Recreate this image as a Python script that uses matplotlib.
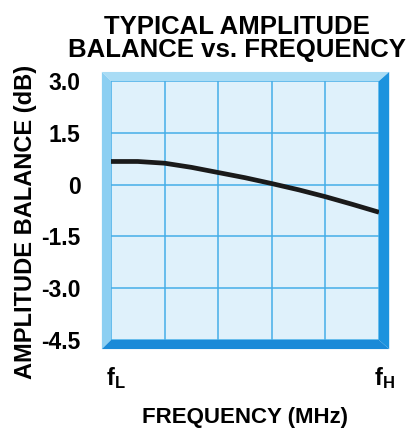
import matplotlib.pyplot as plt
from matplotlib.patches import Polygon
from matplotlib.transforms import ScaledTranslation

plt.rcParams['font.family'] = ['Liberation Sans', 'DejaVu Sans']
plt.rcParams['font.weight'] = 'bold'
plt.rcParams['axes.labelweight'] = 'bold'
plt.rcParams['mathtext.fontset'] = 'custom'
plt.rcParams['mathtext.rm'] = 'Liberation Sans:bold'
plt.rcParams['mathtext.bf'] = 'Liberation Sans:bold'

# frequency position across the band (0 = fL, 5 = fH) and balance in dB
freq_pos = [0, 0.5, 1, 1.5, 2, 2.5, 3, 3.5, 4, 4.5, 5]
balance_db = [0.67, 0.67, 0.62, 0.50, 0.35, 0.20, 0.03, -0.15, -0.35, -0.57, -0.80]

y_ticks = [3.0, 1.5, 0, -1.5, -3.0, -4.5]
y_labels = ['3.0', '1.5', '0', '-1.5', '-3.0', '-4.5']
x_ticks = [0, 5]
x_labels = [r'$\mathrm{f_L}$', r'$\mathrm{f_H}$']

fig = plt.figure(figsize=(4.12, 4.28), dpi=100)
ax = fig.add_axes([0.2694, 0.2056, 0.6505, 0.6051])
ax.set_facecolor('#dff1fb')

ax.set_xlim(0, 5)
ax.set_ylim(-4.5, 3.0)
ax.set_xticks([1, 2, 3, 4], minor=True)
ax.set_xticks(x_ticks)
ax.set_xticklabels(x_labels, fontsize=17)
ax.set_yticks(y_ticks)
ax.set_yticklabels(y_labels, fontsize=16.5)
ax.tick_params(length=0, which='both')
ax.tick_params(axis='x', pad=18)
ax.tick_params(axis='y', pad=22)
ax.grid(True, which='both', color='#45aee8', linewidth=1.1)
for s in ax.spines.values():
    s.set_visible(False)

# nudge the fL / fH labels a little to the right, as in the original
shift = ScaledTranslation(5 / 100, 0, fig.dpi_scale_trans)
for lbl in ax.get_xticklabels():
    lbl.set_transform(lbl.get_transform() + shift)

ax.plot(freq_pos, balance_db, color='#1a1a1a', linewidth=3.4, solid_capstyle='butt', zorder=5)

# bevelled frame around the plot area
bl, br, bt, bb = 0.034, 0.038, 0.035, 0.035
bevels = [
    ([(0, 1), (1, 1), (1 + br, 1 + bt), (-bl, 1 + bt)], '#a9dcf5'),
    ([(0, 0), (0, 1), (-bl, 1 + bt), (-bl, -bb)], '#8ccff2'),
    ([(1, 0), (1 + br, -bb), (1 + br, 1 + bt), (1, 1)], '#1c93de'),
    ([(0, 0), (-bl, -bb), (1 + br, -bb), (1, 0)], '#1a8ad8'),
]
for pts, c in bevels:
    ax.add_patch(Polygon(pts, closed=True, transform=ax.transAxes, clip_on=False,
                         facecolor=c, edgecolor='none', zorder=6))

ax.set_ylabel('AMPLITUDE BALANCE (dB)', fontsize=17)
ax.yaxis.set_label_coords(-0.275, 0.457)
ax.set_xlabel('FREQUENCY (MHz)', fontsize=16)
ax.xaxis.set_label_coords(0.5, -0.257)
fig.text(0.575, 0.91, 'TYPICAL AMPLITUDE\nBALANCE vs. FREQUENCY', ha='center', va='center',
         fontsize=18.5, linespacing=0.92)

fig.savefig('out.png', dpi=100)
